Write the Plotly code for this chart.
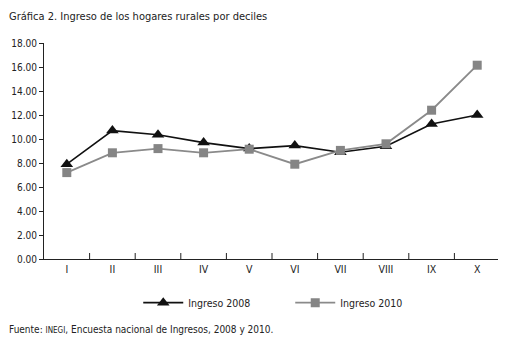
import plotly.graph_objects as go

deciles = ["I", "II", "III", "IV", "V", "VI", "VII", "VIII", "IX", "X"]
ingreso_2008 = [7.9, 10.7, 10.35, 9.7, 9.2, 9.45, 8.9, 9.4, 11.25, 12.0]
ingreso_2010 = [7.2, 8.85, 9.2, 8.85, 9.15, 7.9, 9.05, 9.6, 12.4, 16.15]
y_ticks = [0, 2, 4, 6, 8, 10, 12, 14, 16, 18]

FONT = "DejaVu Sans Condensed, Roboto, sans-serif"
INK = "#222222"

fig = go.Figure()
fig.add_trace(go.Scatter(
    x=deciles, y=ingreso_2008, name="Ingreso 2008", mode="lines+markers",
    line=dict(color="#111111", width=1.6),
    marker=dict(symbol="triangle-up", size=11, color="#111111"),
))
fig.add_trace(go.Scatter(
    x=deciles, y=ingreso_2010, name="Ingreso 2010", mode="lines+markers",
    line=dict(color="#8a8a8a", width=1.8),
    marker=dict(symbol="square", size=9, color="#858585"),
))

# tick marks on the category boundaries, pointing up from the x axis
shapes = [
    dict(type="line", xref="x", yref="paper", x0=i - 0.5, x1=i - 0.5, y0=0, y1=6 / 216,
         line=dict(color=INK, width=1), layer="above")
    for i in range(1, len(deciles) + 1)
]

fig.update_layout(
    width=498, height=336,
    margin=dict(l=36, r=6, t=35, b=85, autoexpand=False),
    paper_bgcolor="white", plot_bgcolor="white",
    font=dict(family=FONT, size=10, color=INK),
    showlegend=True,
    legend=dict(orientation="h", x=0.54, xanchor="center", y=-0.135, yanchor="top",
                font=dict(size=10.5), entrywidth=97, itemwidth=40),
    xaxis=dict(
        type="category", showgrid=False, showline=True, linecolor=INK, linewidth=1,
        ticks="", range=[-0.5, 9.5], tickfont=dict(size=10.5), fixedrange=True,
        automargin=False,
    ),
    yaxis=dict(
        range=[0, 18], tickvals=y_ticks, tickformat=".2f", showgrid=False,
        showline=True, linecolor=INK, linewidth=1, ticks="outside", ticklen=4,
        tickcolor=INK, zeroline=False, tickfont=dict(size=10), automargin=False,
    ),
    shapes=shapes,
    annotations=[
        dict(text="Gráfica 2. Ingreso de los hogares rurales por deciles", xref="paper", yref="paper",
             x=-37/456, y=1 + 26/216, xanchor="left", yanchor="middle", showarrow=False,
             font=dict(size=11, family=FONT, color=INK)),
        dict(text="Fuente: <span style='font-size:8px'>INEGI</span>, Encuesta nacional de Ingresos, 2008 y 2010.",
             xref="paper", yref="paper", x=-37/456, y=-70/216, xanchor="left", yanchor="middle",
             showarrow=False, font=dict(size=10, family=FONT, color=INK)),
    ],
)

fig.write_html("out.html")
